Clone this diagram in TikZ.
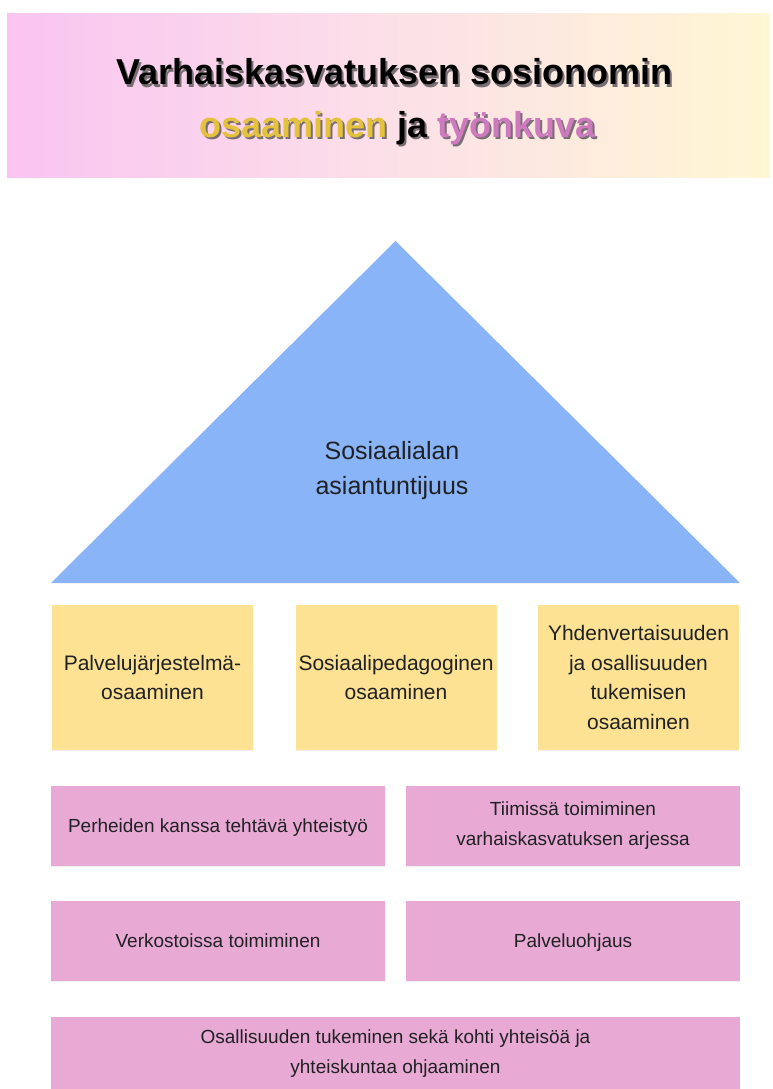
\documentclass[tikz,border=0pt]{standalone}
\usepackage{fontspec}
\setmainfont{Liberation Sans}
\usetikzlibrary{shadows}
\definecolor{hdrL}{RGB}{249,196,241}
\definecolor{hdrM}{RGB}{252,224,232}
\definecolor{hdrR}{RGB}{255,246,211}
\definecolor{triblue}{RGB}{138,180,248}
\definecolor{boxyellow}{RGB}{253,226,147}
\definecolor{boxpink}{RGB}{232,170,212}
\definecolor{ttlyellow}{RGB}{228,194,62}
\definecolor{ttlpink}{RGB}{206,122,190}
\definecolor{txtdark}{RGB}{32,33,36}
\definecolor{shgray}{RGB}{120,110,115}
% text with a soft drop shadow, set in one box
\newcommand\shadowed[2]{\rlap{\kern2pt\raisebox{-2.5pt}{\color{shgray}#2}}#1}
\tikzset{
  ybox/.style={fill=boxyellow, draw=none, minimum width=201pt, minimum height=145pt,
    align=center, text=txtdark, inner sep=0pt,
    font=\fontsize{21}{29.5}\selectfont,
    drop shadow={opacity=0.12, shadow xshift=0pt, shadow yshift=-1pt}},
  pbox/.style={fill=boxpink, draw=none, minimum width=334pt, minimum height=80pt,
    align=center, text=txtdark, inner sep=0pt,
    font=\fontsize{19}{30}\selectfont,
    drop shadow={opacity=0.12, shadow xshift=0pt, shadow yshift=-1pt}},
  ttl/.style={anchor=base, inner sep=0pt, font=\fontsize{36}{52}\bfseries\selectfont}
}
\begin{document}
\begin{tikzpicture}[x=1pt,y=-1pt]
\useasboundingbox (0,0) rectangle (772,1089);
\fill[white] (0,0) rectangle (772,1089);
% header band
\shade[left color=hdrL, right color=hdrR, middle color=hdrM] (7,14) rectangle (770,177);
% title with shadow
\node[ttl] (t1) at (394.5,85) {\shadowed{Varhaiskasvatuksen sosionomin}{Varhaiskasvatuksen sosionomin}};
\node[ttl] (t2) at (397.5,137) {\shadowed{{\color{ttlyellow}osaaminen} ja {\color{ttlpink}työnkuva}}{osaaminen ja työnkuva}};
% triangle
\fill[triblue] (51,583) -- (395.5,241) -- (740,583) -- cycle;
\node[align=center, text=txtdark, font=\fontsize{25}{35}\selectfont] (tri) at (392,471) {Sosiaalialan\\asiantuntijuus};
% yellow boxes
\node[ybox] (y1) at (152.5,677.5) {Palvelujärjestelmä-\\osaaminen};
\node[ybox] (y2) at (396,677.5) {Sosiaalipedagoginen\\osaaminen};
\node[ybox] (y3) at (638.5,677.5) {Yhdenvertaisuuden\\ja osallisuuden\\tukemisen\\osaaminen};
% pink boxes
\node[pbox] (p1) at (218,826) {\strut Perheiden kanssa tehtävä yhteistyö};
\node[pbox] (p2) at (573,826) {Tiimissä toimiminen\\varhaiskasvatuksen arjessa};
\node[pbox] (p3) at (218,941) {\strut Verkostoissa toimiminen};
\node[pbox] (p4) at (573,941) {\strut Palveluohjaus};
\node[pbox, minimum width=689pt, minimum height=74pt] (p5) at (395.5,1054) {Osallisuuden tukeminen sekä kohti yhteisöä ja\\yhteiskuntaa ohjaaminen};
\end{tikzpicture}
\end{document}
